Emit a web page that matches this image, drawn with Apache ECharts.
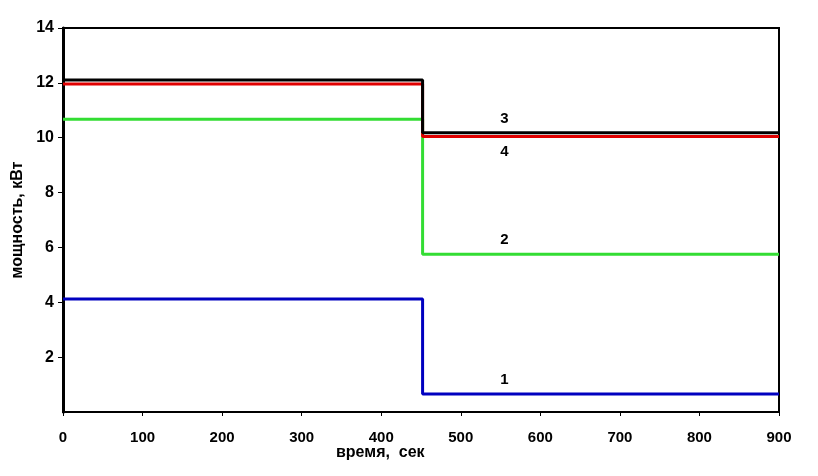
<!DOCTYPE html>
<html><head><meta charset="utf-8">
<script src="https://cdn.jsdelivr.net/npm/echarts@6/dist/echarts.min.js"></script>
<style>html,body{margin:0;padding:0;background:#fff}#c{width:818px;height:476px}</style>
</head><body><div id="c"></div>
<script>
const stepTime = 452;
const xEnd = 900;
const seriesNames = ['1', '2', '4', '3'];
const before = [4.12, 10.67, 11.96, 12.1];
const after = [0.66, 5.75, 10.04, 10.18];
const colors = ['#0000c0', '#33dd33', '#e00000', '#000000'];
const labelX = 555;
const labelY = [1.17, 6.27, 9.48, 10.7];
const xTicks = [0,100,200,300,400,500,600,700,800,900];
const yTicks = [2,4,6,8,10,12,14];

const font = {fontFamily:'Liberation Sans, Arial, sans-serif', fontWeight:'bold', fontSize:15, color:'#000'};
const series = seriesNames.map((n,i)=>({
  type:'line', name:n, symbol:'none', silent:true, animation:false,
  data:[[0,before[i]],[stepTime,before[i]],[stepTime,after[i]],[xEnd,after[i]]],
  lineStyle:{color:colors[i], width:3},
  z: 2 + (i===2 ? 3 : i),
  markPoint:{symbol:'circle', symbolSize:0, silent:true,
    label:{show:true, formatter:n, ...font, fontSize:15, position:'inside'},
    data:[{coord:[labelX, labelY[i]]}]}
}));
const chart = echarts.init(document.getElementById('c'));
chart.setOption({
  backgroundColor:'#fff',
  animation:false,
  grid:{left:63, right:39, top:28, bottom:64, show:true, borderColor:'#000', borderWidth:2, backgroundColor:'transparent'},
  xAxis:{type:'value', min:0, max:900, interval:100,
    axisLine:{show:true, lineStyle:{color:'#000', width:1}},
    axisTick:{show:true, length:4, lineStyle:{color:'#000'}},
    splitLine:{show:false},
    axisLabel:{...font, margin:18, formatter:v=>xTicks.includes(v)?String(v):''}},
  yAxis:{type:'value', min:0, max:14, interval:2,
    axisLine:{show:true, lineStyle:{color:'#000', width:3}},
    axisTick:{show:true, length:5, lineStyle:{color:'#000', width:1}},
    splitLine:{show:false},
    axisLabel:{...font, fontSize:16, margin:9, showMinLabel:false, formatter:v=>yTicks.includes(v)?String(v):''},
    name:'мощность, кВт', nameLocation:'middle', nameRotate:90, nameGap:35,
    nameTextStyle:{...font, fontSize:16}},
  graphic:[{type:'text', left:336, top:445, style:{text:'время,  сек', font:'bold 16px "Liberation Sans", Arial, sans-serif', fill:'#000'}}],
  series
});
</script></body></html>
